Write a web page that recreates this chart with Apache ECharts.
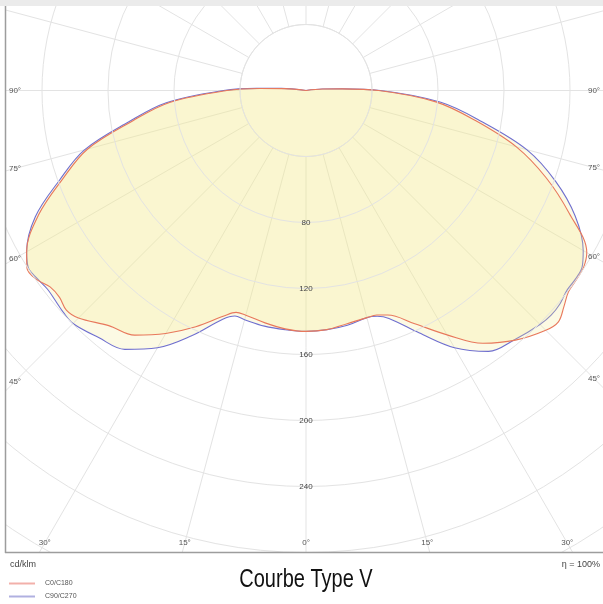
<!DOCTYPE html>
<html>
<head>
<meta charset="utf-8">
<script src="https://cdn.jsdelivr.net/npm/echarts@6/dist/echarts.min.js"></script>
<style>
html,body{margin:0;padding:0;background:#fff;}
#c{width:603px;height:604px;}
</style>
</head>
<body>
<div id="c"></div>
<script>
// ---- data (cd/klm), gamma measured from nadir ----
const gammaDeg = [0, 5, 10, 15, 17.5, 20, 25, 30, 35, 40, 45, 47.5, 50, 52.5, 55, 57.5, 60, 65, 70, 75, 80, 85, 90, 92.5, 95, 100];
// C0 (right half) and C180 (left half)
const c0   = [146, 145.5, 143.5, 142.5, 142.7, 144.8, 156, 171, 187, 197.5, 205.5, 207.5, 204, 200.5, 200, 199.5, 196.5, 176, 155, 132, 104, 79, 44, 22, 10, 0];
const c180 = [146, 145, 143, 141, 141, 145.5, 158, 170, 181, 186, 195, 197, 195, 195.5, 199.5, 200.5, 195.5, 179, 157, 137, 107, 83, 48, 28, 13, 0];
// C90 (right half) and C270 (left half)
const c90  = [146, 145.5, 144.5, 142.5, 143.5, 147, 162, 180, 193, 197, 200.5, 201.5, 201, 199.2, 199.3, 198.5, 194, 180, 161, 138.5, 108, 82, 45, 22, 10, 0];
const c270 = [146, 145.5, 145, 143.8, 143.3, 147.5, 164, 180, 191.5, 195.5, 199.7, 199.3, 198.2, 197.6, 198.8, 199.6, 195.5, 181, 159, 139, 109, 85, 50, 30, 15, 0];

const seriesNames = ['C0/C180', 'C90/C270'];
const ringLabels = [80, 120, 160, 200, 240];
const sideAngleLabels = [90, 75, 60, 45];
const bottomAngleLabels = [-30, -15, 0, 15, 30];
const innerRingValue = 40;
const titleText = 'Courbe Type V';
const unitText = 'cd/klm';
const effText = 'η = 100%';

// ---- layout constants ----
const CX = 306, CY = 90.5, PX_PER_UNIT = 1.65, RMAX = 360;
const BOX_L = 5, BOX_T = 6, BOX_B = 552;

function curve(left, right) {
  const pts = [];
  for (let i = gammaDeg.length - 1; i >= 0; i--) pts.push([left[i], 360 - gammaDeg[i]]);
  for (let i = 1; i < gammaDeg.length; i++) pts.push([right[i], gammaDeg[i]]);
  return pts;
}
const disk = [];
for (let a = 0; a <= 360; a += 2) disk.push([innerRingValue, a]);

const gridColor = '#e3e3e3';
const redLine = '#e8785c';
const blueLine = '#6f6fcf';
const fill = 'rgba(245,236,146,0.36)';

const chart = echarts.init(document.getElementById('c'), null, {renderer: 'canvas'});
const option = {
  animation: false,
  backgroundColor: '#fff',
  polar: { center: [CX, CY], radius: RMAX * PX_PER_UNIT },
  angleAxis: {
    type: 'value', min: 0, max: 360, interval: 15, startAngle: 270, clockwise: false,
    axisLine: {show: false}, axisTick: {show: false}, axisLabel: {show: false},
    splitLine: {show: true, lineStyle: {color: gridColor, width: 1}},
    z: 0
  },
  radiusAxis: {
    type: 'value', min: 0, max: RMAX, interval: 40,
    axisLine: {show: false}, axisTick: {show: false},
    axisLabel: {
      formatter: v => ringLabels.includes(v) ? String(v) : '',
      margin: 0, align: 'center', verticalAlign: 'middle',
      color: '#444', fontSize: 8, fontFamily: 'Liberation Sans'
    },
    splitLine: {show: true, lineStyle: {color: gridColor, width: 1}},
    z: 10
  },
  legend: {
    orient: 'vertical', left: 9, top: 579, padding: 0, itemWidth: 26, itemHeight: 2, itemGap: 4,
    icon: 'rect',
    z: 100,
    textStyle: {fontSize: 7, color: '#555', fontFamily: 'Liberation Sans', padding: [0, 0, 0, 5], lineHeight: 9},
    data: [
      {name: seriesNames[0], itemStyle: {color: '#f2b0aa'}},
      {name: seriesNames[1], itemStyle: {color: '#b0b0e0'}}
    ]
  },
  series: [
    {
      name: 'inner', type: 'line', coordinateSystem: 'polar', data: disk, symbol: 'none',
      silent: true, lineStyle: {color: gridColor, width: 1}, areaStyle: {color: '#fff', opacity: 1}, z: 1
    },
    {
      name: seriesNames[1], type: 'line', coordinateSystem: 'polar', data: curve(c270, c90),
      smooth: 0.35, symbol: 'none', lineStyle: {color: blueLine, width: 1.1},
      areaStyle: {color: fill}, z: 2
    },
    {
      name: seriesNames[0], type: 'line', coordinateSystem: 'polar', data: curve(c180, c0),
      smooth: 0.35, symbol: 'none', lineStyle: {color: redLine, width: 1.1},
      areaStyle: {color: fill}, z: 3
    }
  ]
};
chart.setOption(option);

// ---- annotations placed using the polar scale ----
function toPx(r, a) {
  let p = null;
  try { p = chart.convertToPixel({polarIndex: 0}, [r, a]); } catch (e) { p = null; }
  if (!p || isNaN(p[0])) {
    const rad = (270 + a) * Math.PI / 180;
    p = [CX + r * PX_PER_UNIT * Math.cos(rad), CY - r * PX_PER_UNIT * Math.sin(rad)];
  }
  return p;
}
const c = toPx(0, 0);
function dirOf(a) { const p = toPx(100, a); return [(p[0] - c[0]) / 100, (p[1] - c[1]) / 100]; }
function atX(a, x) { const d = dirOf(a); return toPx((x - c[0]) / d[0], a); }
function atY(a, y) { const d = dirOf(a); return toPx((y - c[1]) / d[1], a); }

const labelStyle = {fontSize: 8, fill: '#555', fontFamily: 'Liberation Sans', align: 'center', verticalAlign: 'middle'};
const els = [];
// clipping overlays and frame
els.push({type: 'rect', z: 50, silent: true, shape: {x: 0, y: BOX_B, width: 603, height: 604 - BOX_B}, style: {fill: '#fff'}});
els.push({type: 'rect', z: 50, silent: true, shape: {x: 0, y: 0, width: BOX_L, height: 604}, style: {fill: '#fff'}});
els.push({type: 'rect', z: 50, silent: true, shape: {x: 0, y: 0, width: 603, height: BOX_T}, style: {fill: '#ebebeb'}});
els.push({type: 'line', z: 51, silent: true, shape: {x1: BOX_L + 0.5, y1: BOX_T, x2: BOX_L + 0.5, y2: BOX_B + 1}, style: {stroke: '#9d9d9d', lineWidth: 1.5}});
els.push({type: 'line', z: 51, silent: true, shape: {x1: BOX_L, y1: BOX_B + 0.5, x2: 603, y2: BOX_B + 0.5}, style: {stroke: '#9d9d9d', lineWidth: 1.5}});
// angle labels
sideAngleLabels.forEach(g => {
  const pl = atX(360 - g, 15);
  els.push({type: 'text', z: 60, silent: true, x: pl[0], y: pl[1], style: Object.assign({text: g + '°'}, labelStyle)});
  const pr = atX(g, 594);
  els.push({type: 'text', z: 60, silent: true, x: pr[0], y: pr[1], style: Object.assign({text: g + '°'}, labelStyle)});
});
bottomAngleLabels.forEach(g => {
  const a = g < 0 ? 360 + g : g;
  const p = atY(a, 543);
  els.push({type: 'text', z: 60, silent: true, x: p[0], y: p[1], style: Object.assign({text: Math.abs(g) + '°'}, labelStyle)});
});
// texts below frame
els.push({type: 'text', z: 100, silent: true, x: 10, y: 565, style: {text: unitText, fontSize: 9, fill: '#444', fontFamily: 'Liberation Sans', align: 'left', verticalAlign: 'middle'}});
els.push({type: 'text', z: 100, silent: true, x: 600, y: 565, style: {text: effText, fontSize: 9, fill: '#444', fontFamily: 'Liberation Sans', align: 'right', verticalAlign: 'middle'}});
els.push({type: 'text', z: 100, silent: true, x: 306, y: 580, scaleX: 0.8, originX: 0, style: {text: titleText, fontSize: 25, fill: '#111', fontFamily: 'Liberation Sans', align: 'center', verticalAlign: 'middle'}});

chart.setOption({graphic: {elements: els}});
</script>
</body>
</html>
